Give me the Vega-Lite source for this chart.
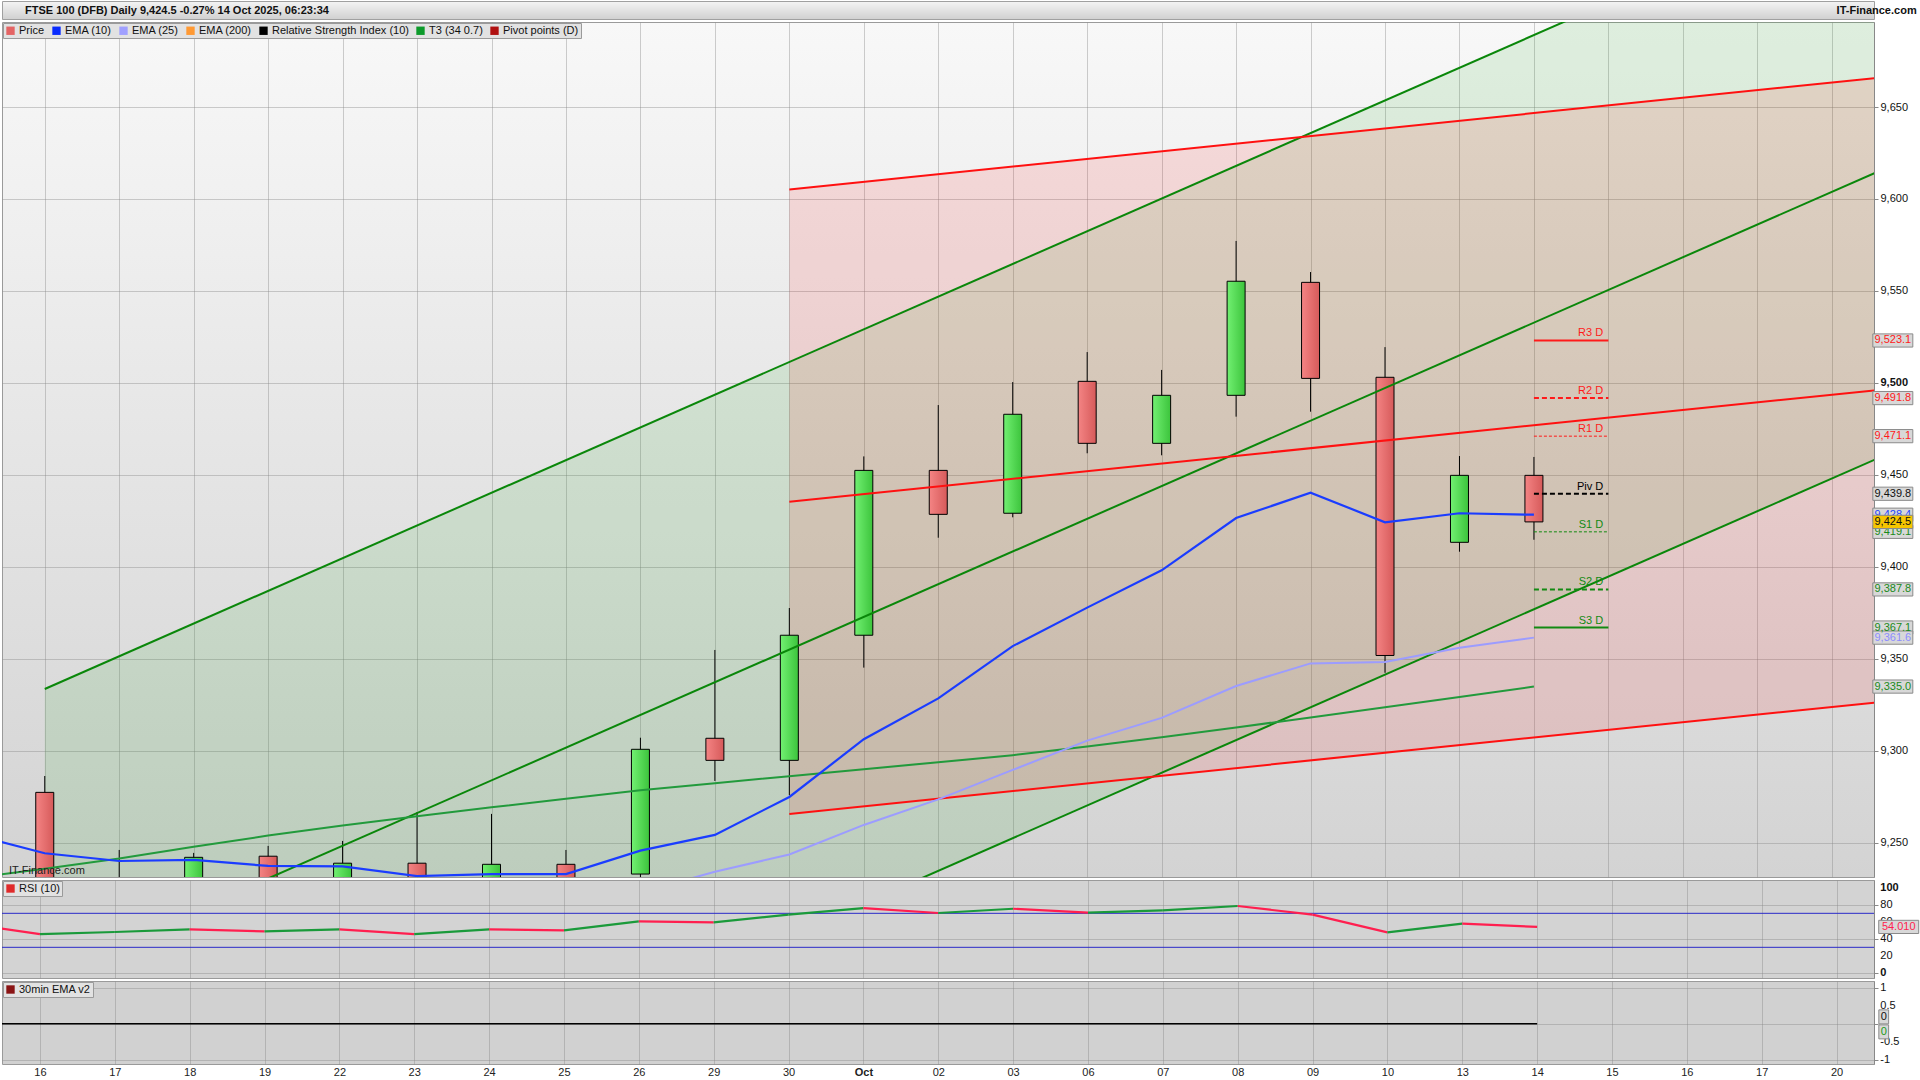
{
  "$schema": "https://vega.github.io/schema/vega-lite/v6.json",
  "background": "white",
  "padding": 0,
  "spacing": 1,
  "config": {
    "font": "Liberation Sans",
    "view": {"stroke": "#9a9a9a"},
    "axis": {"labelFont": "Liberation Sans", "labelFontSize": 11, "labelColor": "#111", "gridColor": "#888", "gridOpacity": 0.4, "tickColor": "#888", "domainColor": "#888", "title": null, "labelOverlap": false}
  },
  "resolve": {"scale": {"color": "independent", "x": "independent", "y": "independent"}, "legend": {"color": "independent"}},
  "datasets": {
    "candles": [
      {"i": 0, "o": 9277.5, "h": 9286.4, "l": 9190, "c": 9198},
      {"i": 1, "o": 9200, "h": 9246.2, "l": 9185, "c": 9207},
      {"i": 2, "o": 9210, "h": 9244.6, "l": 9202, "c": 9242.2},
      {"i": 3, "o": 9242.8, "h": 9248.4, "l": 9205, "c": 9214},
      {"i": 4, "o": 9214, "h": 9251.1, "l": 9206, "c": 9239},
      {"i": 5, "o": 9239, "h": 9266.8, "l": 9208, "c": 9219},
      {"i": 6, "o": 9219, "h": 9265.8, "l": 9210, "c": 9238.4},
      {"i": 7, "o": 9238.4, "h": 9246.2, "l": 9200, "c": 9210},
      {"i": 8, "o": 9233.1, "h": 9307.2, "l": 9225, "c": 9300.9},
      {"i": 9, "o": 9306.9, "h": 9354.9, "l": 9283.7, "c": 9294.9},
      {"i": 10, "o": 9294.9, "h": 9377.7, "l": 9276, "c": 9362.9},
      {"i": 11, "o": 9362.9, "h": 9460.1, "l": 9345.3, "c": 9452.5},
      {"i": 12, "o": 9452.5, "h": 9488, "l": 9415.9, "c": 9428.6},
      {"i": 13, "o": 9429.2, "h": 9500.5, "l": 9427, "c": 9483},
      {"i": 14, "o": 9500.9, "h": 9516.8, "l": 9461.8, "c": 9467.2},
      {"i": 15, "o": 9467.2, "h": 9507.1, "l": 9460.7, "c": 9493.3},
      {"i": 16, "o": 9493.3, "h": 9577.2, "l": 9481.7, "c": 9555.3},
      {"i": 17, "o": 9554.7, "h": 9560.3, "l": 9484.4, "c": 9502.5},
      {"i": 18, "o": 9503.1, "h": 9519.5, "l": 9342.5, "c": 9351.9},
      {"i": 19, "o": 9413.4, "h": 9460.3, "l": 9408.3, "c": 9449.8},
      {"i": 20, "o": 9449.8, "h": 9459.8, "l": 9414.8, "c": 9424.5}
    ],
    "ema10": [
      {"i": -1, "v": 9255}, {"i": 0, "v": 9244.4}, {"i": 1, "v": 9240.2}, {"i": 2, "v": 9240.8}, {"i": 3, "v": 9237.5},
      {"i": 4, "v": 9237.3}, {"i": 5, "v": 9232}, {"i": 6, "v": 9233.1}, {"i": 7, "v": 9233.1}, {"i": 8, "v": 9245.8},
      {"i": 9, "v": 9254.4}, {"i": 10, "v": 9275}, {"i": 11, "v": 9306.4}, {"i": 12, "v": 9328.6}, {"i": 13, "v": 9357},
      {"i": 14, "v": 9377.9}, {"i": 15, "v": 9398.2}, {"i": 16, "v": 9426.6}, {"i": 17, "v": 9440.4}, {"i": 18, "v": 9424.3},
      {"i": 19, "v": 9429.2}, {"i": 20, "v": 9428.4}
    ],
    "ema25": [
      {"i": 6, "v": 9216}, {"i": 7, "v": 9219}, {"i": 8, "v": 9223}, {"i": 9, "v": 9234.4}, {"i": 10, "v": 9243.7},
      {"i": 11, "v": 9259.8}, {"i": 12, "v": 9273.7}, {"i": 13, "v": 9289.7}, {"i": 14, "v": 9305.6}, {"i": 15, "v": 9318},
      {"i": 16, "v": 9335.3}, {"i": 17, "v": 9347.6}, {"i": 18, "v": 9348.4}, {"i": 19, "v": 9356.1}, {"i": 20, "v": 9361.6}
    ],
    "t3": [
      {"i": -1, "v": 9230.7}, {"i": 0, "v": 9236}, {"i": 1, "v": 9241.5}, {"i": 2, "v": 9248}, {"i": 3, "v": 9254},
      {"i": 4, "v": 9259.5}, {"i": 5, "v": 9264.5}, {"i": 6, "v": 9269.4}, {"i": 7, "v": 9274}, {"i": 8, "v": 9278.6},
      {"i": 9, "v": 9282.5}, {"i": 10, "v": 9286.3}, {"i": 11, "v": 9290.1}, {"i": 12, "v": 9293.9}, {"i": 13, "v": 9297.7},
      {"i": 14, "v": 9302.4}, {"i": 15, "v": 9307.5}, {"i": 16, "v": 9312.8}, {"i": 17, "v": 9318.2}, {"i": 18, "v": 9323.7},
      {"i": 19, "v": 9329.3}, {"i": 20, "v": 9335.0}
    ],
    "chanG": [
      {"i": 0, "up": 9333.7, "mid": 9177.4, "lo": 9021.6},
      {"i": 25, "up": 9777.95, "mid": 9621.65, "lo": 9465.85}
    ],
    "chanR": [
      {"i": 10, "up": 9605.2, "mid": 9435.5, "lo": 9265.8},
      {"i": 25, "up": 9667.45, "mid": 9497.75, "lo": 9328.05}
    ],
    "pivots": [
      {"n": "R3 D", "v": 9523.1}, {"n": "R2 D", "v": 9491.8}, {"n": "R1 D", "v": 9471.1}, {"n": "Piv D", "v": 9439.8},
      {"n": "S1 D", "v": 9419.1}, {"n": "S2 D", "v": 9387.8}, {"n": "S3 D", "v": 9367.1}
    ],
    "boxes": [
      {"v": 9523.1, "k": "R"}, {"v": 9491.8, "k": "R"}, {"v": 9471.1, "k": "R"}, {"v": 9439.8, "k": "P"},
      {"v": 9428.4, "k": "E10"}, {"v": 9419.1, "k": "S"}, {"v": 9387.8, "k": "S"}, {"v": 9367.1, "k": "S"},
      {"v": 9361.6, "k": "E25"}, {"v": 9335.0, "k": "T3"}, {"v": 9424.5, "k": "price"}
    ],
    "rsi": [
      {"i": -1, "v": 58}, {"i": 0, "v": 45.6}, {"i": 1, "v": 48.0}, {"i": 2, "v": 51.2}, {"i": 3, "v": 48.8},
      {"i": 4, "v": 51.2}, {"i": 5, "v": 45.6}, {"i": 6, "v": 51.2}, {"i": 7, "v": 50.0}, {"i": 8, "v": 60.6},
      {"i": 9, "v": 59.4}, {"i": 10, "v": 68.4}, {"i": 11, "v": 76.2}, {"i": 12, "v": 70.4}, {"i": 13, "v": 75.4},
      {"i": 14, "v": 70.7}, {"i": 15, "v": 73.5}, {"i": 16, "v": 78.6}, {"i": 17, "v": 68.4}, {"i": 18, "v": 47.6},
      {"i": 19, "v": 57.8}, {"i": 20, "v": 54.01}
    ]
  },
  "vconcat": [
    {
      "width": 1872,
      "height": 18,
      "view": {"fill": {"gradient": "linear", "x1": 0, "y1": 0, "x2": 0, "y2": 1, "stops": [{"offset": 0, "color": "#f4f4f4"}, {"offset": 1, "color": "#d0d0d0"}]}, "stroke": "#a0a0a0"},
      "data": {"values": [{"t": "FTSE 100 (DFB) Daily 9,424.5 -0.27% 14 Oct 2025, 06:23:34", "s": "IT-Finance.com"}]},
      "layer": [
        {
          "mark": {"type": "text", "align": "left", "baseline": "middle", "fontWeight": "bold", "fontSize": 11, "color": "#111"},
          "encoding": {
            "x": {"datum": -0.2, "type": "quantitative", "scale": {"domain": [-0.507, 24.5], "nice": false, "zero": false}, "axis": null},
            "y": {"datum": 0.45, "type": "quantitative", "scale": {"domain": [0, 1]}, "axis": null},
            "text": {"field": "t"}
          }
        },
        {
          "mark": {"type": "text", "align": "right", "baseline": "middle", "fontWeight": "bold", "fontSize": 11, "color": "#111", "clip": false},
          "encoding": {
            "x": {"datum": 25.07, "type": "quantitative", "axis": null},
            "y": {"datum": 0.45, "type": "quantitative", "axis": null},
            "text": {"field": "s"}
          }
        }
      ]
    },
    {
      "width": 1872,
      "height": 855,
      "view": {"fill": {"gradient": "linear", "x1": 0, "y1": 0, "x2": 0, "y2": 1, "stops": [{"offset": 0, "color": "#f8f8f8"}, {"offset": 1, "color": "#d3d3d3"}]}, "stroke": "#9a9a9a"},
      "layer": [
        {
          "data": {"name": "chanG"},
          "mark": {"type": "area", "fill": "#00a000", "fillOpacity": 0.1, "clip": true},
          "encoding": {
            "x": {"field": "i", "type": "quantitative", "scale": {"domain": [-0.507, 24.5], "nice": false, "zero": false},
                  "axis": {"values": [0,1,2,3,4,5,6,7,8,9,10,11,12,13,14,15,16,17,18,19,20,21,22,23,24], "labels": false, "ticks": false, "domain": false, "grid": true, "minExtent": 0, "maxExtent": 0}},
            "y": {"field": "up", "type": "quantitative", "scale": {"domain": [9231.5, 9696.2], "nice": false, "zero": false},
                  "axis": {"orient": "right", "values": [9250, 9300, 9350, 9400, 9450, 9500, 9550, 9600, 9650], "format": ",d", "grid": true, "tickSize": 4, "labelPadding": 2,
                           "labelFontWeight": {"condition": {"test": "datum.value === 9500", "value": "bold"}, "value": "normal"}}},
            "y2": {"field": "lo"}
          }
        },
        {
          "data": {"name": "chanR"},
          "mark": {"type": "area", "fill": "#ff0000", "fillOpacity": 0.11, "clip": true},
          "encoding": {"x": {"field": "i", "type": "quantitative"}, "y": {"field": "up", "type": "quantitative"}, "y2": {"field": "lo"}}
        },
        {
          "data": {"name": "candles"},
          "mark": {"type": "rule", "color": "#000", "strokeWidth": 1, "clip": true},
          "encoding": {"x": {"field": "i", "type": "quantitative"}, "y": {"field": "l", "type": "quantitative"}, "y2": {"field": "h"}}
        },
        {
          "data": {"name": "candles"},
          "transform": [{"filter": "datum.c >= datum.o"}],
          "mark": {"type": "bar", "width": 18, "clip": true, "stroke": "#000", "strokeWidth": 1,
                   "fill": {"gradient": "linear", "x1": 0, "y1": 0, "x2": 1, "y2": 0, "stops": [{"offset": 0, "color": "#72f072"}, {"offset": 1, "color": "#3cc43c"}]}},
          "encoding": {"x": {"field": "i", "type": "quantitative"}, "y": {"field": "o", "type": "quantitative"}, "y2": {"field": "c"}}
        },
        {
          "data": {"name": "candles"},
          "transform": [{"filter": "datum.c < datum.o"}],
          "mark": {"type": "bar", "width": 18, "clip": true, "stroke": "#000", "strokeWidth": 1,
                   "fill": {"gradient": "linear", "x1": 0, "y1": 0, "x2": 1, "y2": 0, "stops": [{"offset": 0, "color": "#f48484"}, {"offset": 1, "color": "#d65a5a"}]}},
          "encoding": {"x": {"field": "i", "type": "quantitative"}, "y": {"field": "o", "type": "quantitative"}, "y2": {"field": "c"}}
        },
        {
          "data": {"name": "chanG"},
          "mark": {"type": "line", "color": "#0a870a", "strokeWidth": 2, "clip": true},
          "encoding": {"x": {"field": "i", "type": "quantitative"}, "y": {"field": "up", "type": "quantitative"}}
        },
        {
          "data": {"name": "chanG"},
          "mark": {"type": "line", "color": "#0a870a", "strokeWidth": 2, "clip": true},
          "encoding": {"x": {"field": "i", "type": "quantitative"}, "y": {"field": "mid", "type": "quantitative"}}
        },
        {
          "data": {"name": "chanG"},
          "mark": {"type": "line", "color": "#0a870a", "strokeWidth": 2, "clip": true},
          "encoding": {"x": {"field": "i", "type": "quantitative"}, "y": {"field": "lo", "type": "quantitative"}}
        },
        {
          "data": {"name": "chanR"},
          "mark": {"type": "line", "color": "#ff1010", "strokeWidth": 2, "clip": true},
          "encoding": {"x": {"field": "i", "type": "quantitative"}, "y": {"field": "up", "type": "quantitative"}}
        },
        {
          "data": {"name": "chanR"},
          "mark": {"type": "line", "color": "#ff1010", "strokeWidth": 2, "clip": true},
          "encoding": {"x": {"field": "i", "type": "quantitative"}, "y": {"field": "mid", "type": "quantitative"}}
        },
        {
          "data": {"name": "chanR"},
          "mark": {"type": "line", "color": "#ff1010", "strokeWidth": 2, "clip": true},
          "encoding": {"x": {"field": "i", "type": "quantitative"}, "y": {"field": "lo", "type": "quantitative"}}
        },
        {
          "data": {"name": "t3"},
          "mark": {"type": "line", "color": "#229a3c", "strokeWidth": 2, "clip": true},
          "encoding": {"x": {"field": "i", "type": "quantitative"}, "y": {"field": "v", "type": "quantitative"}}
        },
        {
          "data": {"name": "ema25"},
          "mark": {"type": "line", "color": "#9c9cff", "strokeWidth": 2, "clip": true},
          "encoding": {"x": {"field": "i", "type": "quantitative"}, "y": {"field": "v", "type": "quantitative"}}
        },
        {
          "data": {"name": "ema10"},
          "mark": {"type": "line", "color": "#1a3cff", "strokeWidth": 2.2, "clip": true},
          "encoding": {"x": {"field": "i", "type": "quantitative"}, "y": {"field": "v", "type": "quantitative"}}
        },
        {
          "data": {"name": "pivots"},
          "mark": {"type": "rule", "clip": true},
          "encoding": {
            "x": {"datum": 20, "type": "quantitative"},
            "x2": {"datum": 21},
            "y": {"field": "v", "type": "quantitative"},
            "color": {"condition": [{"test": "datum.n === 'R3 D' || datum.n === 'R2 D' || datum.n === 'R1 D'", "value": "#ff1a1a"}, {"test": "datum.n === 'Piv D'", "value": "#000000"}], "value": "#128a12"},
            "strokeDash": {"condition": [{"test": "datum.n === 'R3 D' || datum.n === 'S3 D'", "value": [1, 0]}, {"test": "datum.n === 'R1 D' || datum.n === 'S1 D'", "value": [3, 2]}], "value": [5, 3]},
            "strokeWidth": {"condition": {"test": "datum.n === 'R1 D' || datum.n === 'S1 D'", "value": 1}, "value": 2}
          }
        },
        {
          "data": {"name": "pivots"},
          "mark": {"type": "text", "align": "right", "baseline": "bottom", "dy": -2, "fontSize": 11},
          "encoding": {
            "x": {"datum": 20.93, "type": "quantitative"},
            "y": {"field": "v", "type": "quantitative"},
            "text": {"field": "n"},
            "color": {"condition": [{"test": "datum.n === 'R3 D' || datum.n === 'R2 D' || datum.n === 'R1 D'", "value": "#ff1a1a"}, {"test": "datum.n === 'Piv D'", "value": "#000000"}], "value": "#128a12"}
          }
        },
        {
          "data": {"name": "boxes"},
          "transform": [{"filter": "datum.k !== 'price'"}],
          "mark": {"type": "point", "shape": "M-1,-0.33H1V0.33H-1Z", "size": 1600, "filled": true, "fill": "#d8d8d8", "fillOpacity": 1, "opacity": 1, "stroke": "#8a8a8a", "strokeWidth": 1, "clip": false},
          "encoding": {"x": {"datum": 24.82, "type": "quantitative"}, "y": {"field": "v", "type": "quantitative"}}
        },
        {
          "data": {"name": "boxes"},
          "transform": [{"filter": "datum.k !== 'price'"}],
          "mark": {"type": "text", "align": "center", "baseline": "middle", "fontSize": 11, "clip": false},
          "encoding": {
            "x": {"datum": 24.82, "type": "quantitative"},
            "y": {"field": "v", "type": "quantitative"},
            "text": {"field": "v", "type": "quantitative", "format": ",.1f"},
            "color": {"condition": [
              {"test": "datum.k === 'R'", "value": "#ff1a1a"},
              {"test": "datum.k === 'P'", "value": "#111111"},
              {"test": "datum.k === 'E10'", "value": "#2244ff"},
              {"test": "datum.k === 'E25'", "value": "#8c8cff"}], "value": "#1a8a1a"}
          }
        },
        {
          "data": {"name": "boxes"},
          "transform": [{"filter": "datum.k === 'price'"}],
          "mark": {"type": "point", "shape": "M-1,-0.33H1V0.33H-1Z", "size": 1600, "filled": true, "fill": "#f7c600", "fillOpacity": 1, "opacity": 1, "stroke": "#8a8a8a", "strokeWidth": 1, "clip": false},
          "encoding": {"x": {"datum": 24.82, "type": "quantitative"}, "y": {"field": "v", "type": "quantitative"}}
        },
        {
          "data": {"name": "boxes"},
          "transform": [{"filter": "datum.k === 'price'"}],
          "mark": {"type": "text", "align": "center", "baseline": "middle", "fontSize": 11, "color": "#111", "clip": false},
          "encoding": {
            "x": {"datum": 24.82, "type": "quantitative"},
            "y": {"field": "v", "type": "quantitative"},
            "text": {"field": "v", "type": "quantitative", "format": ",.1f"}
          }
        },
        {
          "data": {"values": [{"t": "IT-Finance.com"}]},
          "mark": {"type": "text", "align": "left", "baseline": "bottom", "fontSize": 11, "color": "#222", "dy": -1},
          "encoding": {"x": {"datum": -0.48, "type": "quantitative"}, "y": {"datum": 9231.5, "type": "quantitative"}, "text": {"field": "t"}}
        },
        {
          "data": {"values": [{"s": "Price"}, {"s": "EMA (10)"}, {"s": "EMA (25)"}, {"s": "EMA (200)"}, {"s": "Relative Strength Index (10)"}, {"s": "T3 (34 0.7)"}, {"s": "Pivot points (D)"}]},
          "mark": {"type": "square", "clip": true, "size": 10, "opacity": 1},
          "encoding": {
            "x": {"datum": -5, "type": "quantitative"},
            "y": {"datum": 9300, "type": "quantitative"},
            "color": {"field": "s", "type": "nominal",
                      "scale": {"domain": ["Price", "EMA (10)", "EMA (25)", "EMA (200)", "Relative Strength Index (10)", "T3 (34 0.7)", "Pivot points (D)"],
                                "range": ["#e46464", "#0a2cff", "#a0a0ff", "#ff9933", "#000000", "#0c9a2a", "#b01010"]},
                      "legend": {"orient": "top-left", "direction": "horizontal", "columns": 7, "title": null, "offset": 1, "padding": 2,
                                 "fillColor": "#e2e2e2", "strokeColor": "#9a9a9a", "symbolType": "square", "symbolSize": 70, "symbolStrokeWidth": 0,
                                 "labelFontSize": 11, "labelColor": "#111", "labelFont": "Liberation Sans", "columnPadding": 6, "rowPadding": 0, "labelOffset": 3, "labelLimit": 300, "symbolOpacity": 1}}
          }
        }
      ]
    },
    {
      "width": 1872,
      "height": 98,
      "view": {"fill": "#d3d3d3", "stroke": "#9a9a9a"},
      "layer": [
        {
          "data": {"values": [{"lvl": 70}, {"lvl": 30}]},
          "mark": {"type": "rule", "color": "#2a2ac8", "strokeWidth": 1},
          "encoding": {
            "x": {"datum": -0.507, "type": "quantitative", "scale": {"domain": [-0.507, 24.5], "nice": false, "zero": false},
                  "axis": {"values": [0,1,2,3,4,5,6,7,8,9,10,11,12,13,14,15,16,17,18,19,20,21,22,23,24], "labels": false, "ticks": false, "domain": false, "grid": true, "minExtent": 0, "maxExtent": 0}},
            "x2": {"datum": 24.5},
            "y": {"field": "lvl", "type": "quantitative", "scale": {"domain": [-6.1, 109.2], "nice": false, "zero": false},
                  "axis": {"orient": "right", "values": [0, 10, 20, 30, 40, 50, 60, 70, 80, 90, 100], "grid": true, "tickSize": 4, "labels": false}}
          }
        },
        {
          "data": {"values": [{"g": 20}, {"g": 40}, {"g": 60}, {"g": 80}]},
          "mark": {"type": "text", "align": "left", "baseline": "middle", "fontSize": 11, "color": "#111", "clip": false},
          "encoding": {
            "x": {"datum": 24.585, "type": "quantitative"},
            "y": {"field": "g", "type": "quantitative"},
            "text": {"field": "g", "type": "quantitative", "format": "d"}
          }
        },
        {
          "data": {"values": [{"g": 0}, {"g": 100}]},
          "mark": {"type": "text", "align": "left", "baseline": "middle", "fontSize": 11, "fontWeight": "bold", "color": "#111", "clip": false},
          "encoding": {
            "x": {"datum": 24.585, "type": "quantitative"},
            "y": {"field": "g", "type": "quantitative"},
            "text": {"field": "g", "type": "quantitative", "format": "d"}
          }
        },
        {
          "data": {"name": "rsi"},
          "transform": [
            {"window": [{"op": "lag", "field": "v", "as": "pv"}, {"op": "lag", "field": "i", "as": "pi"}], "sort": [{"field": "i", "order": "ascending"}]},
            {"filter": "datum.pv != null"}
          ],
          "mark": {"type": "rule", "strokeWidth": 2.2, "clip": true},
          "encoding": {
            "x": {"field": "pi", "type": "quantitative"},
            "x2": {"field": "i"},
            "y": {"field": "pv", "type": "quantitative"},
            "y2": {"field": "v"},
            "color": {"condition": {"test": "datum.v >= datum.pv", "value": "#1a9a3a"}, "value": "#ff1f4f"}
          }
        },
        {
          "data": {"values": [{"v": 54.01}]},
          "mark": {"type": "point", "shape": "M-1,-0.33H1V0.33H-1Z", "size": 1600, "filled": true, "fill": "#d8d8d8", "opacity": 1, "stroke": "#8a8a8a", "strokeWidth": 1, "clip": false},
          "encoding": {"x": {"datum": 24.83, "type": "quantitative"}, "y": {"field": "v", "type": "quantitative"}}
        },
        {
          "data": {"values": [{"v": 54.01}]},
          "mark": {"type": "text", "align": "center", "baseline": "middle", "fontSize": 11, "color": "#ff1f4f", "clip": false},
          "encoding": {"x": {"datum": 24.83, "type": "quantitative"}, "y": {"field": "v", "type": "quantitative"}, "text": {"field": "v", "type": "quantitative", "format": ".3f"}}
        },
        {
          "data": {"values": [{"s": "RSI (10)"}]},
          "mark": {"type": "square", "clip": true, "size": 10, "opacity": 1},
          "encoding": {
            "x": {"datum": -5, "type": "quantitative"},
            "y": {"datum": 50, "type": "quantitative"},
            "color": {"field": "s", "type": "nominal", "scale": {"domain": ["RSI (10)"], "range": ["#e02a2a"]},
                      "legend": {"orient": "top-left", "title": null, "offset": 1, "padding": 2, "fillColor": "#e2e2e2", "strokeColor": "#9a9a9a",
                                 "symbolType": "square", "symbolSize": 70, "symbolStrokeWidth": 0, "labelFontSize": 11, "labelColor": "#111", "labelOffset": 3, "symbolOpacity": 1}}
          }
        }
      ]
    },
    {
      "width": 1872,
      "height": 83,
      "view": {"fill": "#d1d1d1", "stroke": "#9a9a9a"},
      "layer": [
        {
          "data": {"values": [{"z": 0}]},
          "mark": {"type": "rule", "color": "#000000", "strokeWidth": 1.5},
          "encoding": {
            "x": {"datum": -0.507, "type": "quantitative", "scale": {"domain": [-0.507, 24.5], "nice": false, "zero": false},
                  "axis": {"values": [0,1,2,3,4,5,6,7,8,9,10,11,12,13,14,15,16,17,18,19,20,21,22,23,24], "ticks": false, "domain": false, "grid": true, "labelPadding": 2,
                           "labelExpr": "['16','17','18','19','22','23','24','25','26','29','30','Oct','02','03','06','07','08','09','10','13','14','15','16','17','20'][datum.value]",
                           "labelFontWeight": {"condition": {"test": "datum.value === 11", "value": "bold"}, "value": "normal"},
                           "labelColor": "#222", "labelFlush": false, "labelOverlap": false}},
            "x2": {"datum": 20},
            "y": {"field": "z", "type": "quantitative", "scale": {"domain": [-1.12, 1.196], "nice": false, "zero": false},
                  "axis": {"orient": "right", "values": [-1, -0.5, 0, 0.5, 1], "grid": true, "tickSize": 4, "labels": false}}
          }
        },
        {
          "data": {"values": [{"g": 1, "t": "1"}, {"g": 0.5, "t": "0.5"}, {"g": -0.5, "t": "-0.5"}, {"g": -1, "t": "-1"}]},
          "mark": {"type": "text", "align": "left", "baseline": "middle", "fontSize": 11, "color": "#111", "clip": false},
          "encoding": {
            "x": {"datum": 24.585, "type": "quantitative"},
            "y": {"field": "g", "type": "quantitative"},
            "text": {"field": "t"}
          }
        },
        {
          "data": {"values": [{"z": 0}]},
          "mark": {"type": "point", "shape": "M-0.7,-1H0.7V1H-0.7Z", "size": 196, "filled": true, "fill": "#d8d8d8", "opacity": 1, "stroke": "#8a8a8a", "strokeWidth": 1, "clip": false},
          "encoding": {"x": {"datum": 24.63, "type": "quantitative"}, "y": {"field": "z", "type": "quantitative"}, "yOffset": {"value": -7}}
        },
        {
          "data": {"values": [{"z": 0}]},
          "mark": {"type": "text", "align": "center", "baseline": "middle", "fontSize": 11, "color": "#111", "clip": false, "dy": -7},
          "encoding": {"x": {"datum": 24.63, "type": "quantitative"}, "y": {"field": "z", "type": "quantitative"}, "text": {"field": "z", "type": "quantitative"}}
        },
        {
          "data": {"values": [{"z": 0}]},
          "mark": {"type": "point", "shape": "M-0.7,-1H0.7V1H-0.7Z", "size": 196, "filled": true, "fill": "#d8d8d8", "opacity": 1, "stroke": "#8a8a8a", "strokeWidth": 1, "clip": false},
          "encoding": {"x": {"datum": 24.63, "type": "quantitative"}, "y": {"field": "z", "type": "quantitative"}, "yOffset": {"value": 8}}
        },
        {
          "data": {"values": [{"z": 0}]},
          "mark": {"type": "text", "align": "center", "baseline": "middle", "fontSize": 11, "color": "#1a9a1a", "clip": false, "dy": 8},
          "encoding": {"x": {"datum": 24.63, "type": "quantitative"}, "y": {"field": "z", "type": "quantitative"}, "text": {"field": "z", "type": "quantitative"}}
        },
        {
          "data": {"values": [{"s": "30min EMA v2"}]},
          "mark": {"type": "square", "clip": true, "size": 10, "opacity": 1},
          "encoding": {
            "x": {"datum": -5, "type": "quantitative"},
            "y": {"datum": 0, "type": "quantitative"},
            "color": {"field": "s", "type": "nominal", "scale": {"domain": ["30min EMA v2"], "range": ["#8a1414"]},
                      "legend": {"orient": "top-left", "title": null, "offset": 1, "padding": 2, "fillColor": "#e2e2e2", "strokeColor": "#9a9a9a",
                                 "symbolType": "square", "symbolSize": 70, "symbolStrokeWidth": 0, "labelFontSize": 11, "labelColor": "#111", "labelOffset": 3, "symbolOpacity": 1}}
          }
        }
      ]
    }
  ]
}
